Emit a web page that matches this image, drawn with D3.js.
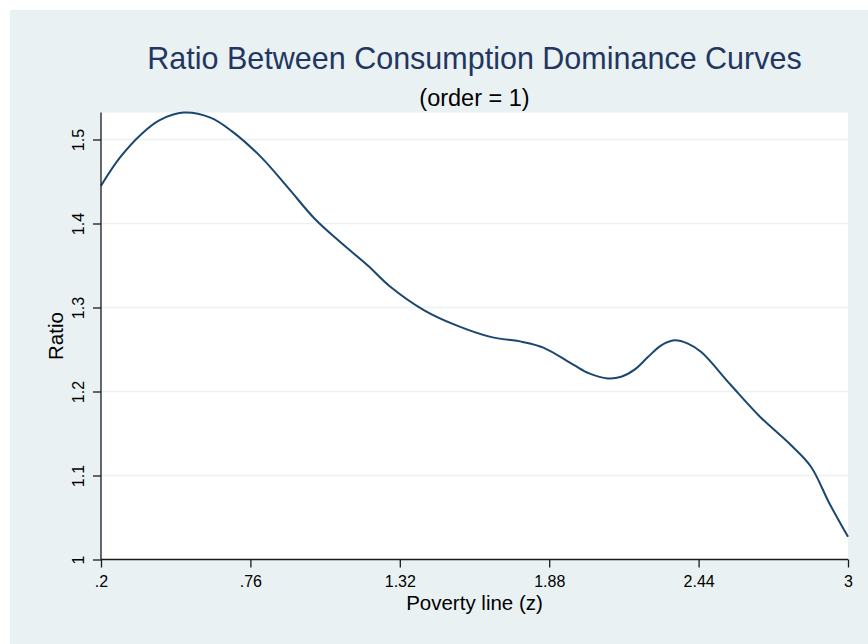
<!DOCTYPE html>
<html>
<head>
<meta charset="utf-8">
<script src="https://cdn.jsdelivr.net/npm/d3@7"></script>
<style>
  html, body { margin: 0; padding: 0; background: #ffffff; }
  svg { display: block; font-family: "Liberation Sans", Arial, Helvetica, sans-serif; }
</style>
</head>
<body>
<svg id="chart" width="868" height="644"></svg>
<script>
// ---- data ----
const titleText = "Ratio Between Consumption Dominance Curves";
const subtitleText = "(order = 1)";
const xAxisTitle = "Poverty line (z)";
const yAxisTitle = "Ratio";

const povertyLine = [0.2, 0.27, 0.35, 0.42, 0.51, 0.61, 0.69, 0.8, 0.9, 1.0, 1.1, 1.2, 1.28, 1.41, 1.53, 1.66, 1.78, 1.86, 1.97, 2.03, 2.1, 2.15, 2.2, 2.25, 2.3, 2.35, 2.4, 2.45, 2.56, 2.67, 2.78, 2.86, 2.93, 3.0];
const ratio = [1.445, 1.478, 1.506, 1.523, 1.532, 1.526, 1.510, 1.479, 1.443, 1.406, 1.377, 1.350, 1.326, 1.297, 1.279, 1.265, 1.259, 1.252, 1.232, 1.2215, 1.2155, 1.2175, 1.226, 1.241, 1.255, 1.261, 1.257, 1.247, 1.208, 1.170, 1.138, 1.111, 1.067, 1.027];

const xTicks = [0.2, 0.76, 1.32, 1.88, 2.44, 3];
const xTickLabels = [".2", ".76", "1.32", "1.88", "2.44", "3"];
const yTicks = [1, 1.1, 1.2, 1.3, 1.4, 1.5];
const yTickLabels = ["1", "1.1", "1.2", "1.3", "1.4", "1.5"];

// ---- layout ----
const svg = d3.select("#chart");
const plotLeft = 101, plotRight = 848, plotBottom = 559.5;
const bgColor = "#eaf1f3";
const lineColor = "#1a476f";
const titleColor = "#22365f";

const x = d3.scaleLinear().domain([0.2, 3]).range([plotLeft, plotRight]);
const y = d3.scaleLinear().domain([1, 1.5]).range([plotBottom, 139.5]);
const yTop = d3.max(ratio);

// graph region background
svg.append("rect").attr("x", 10).attr("y", 10).attr("width", 858).attr("height", 634).attr("fill", bgColor);

// plot region
svg.append("rect")
  .attr("x", plotLeft).attr("y", y(yTop))
  .attr("width", plotRight - plotLeft).attr("height", plotBottom - y(yTop))
  .attr("fill", "#ffffff");

// gridlines
svg.append("g").selectAll("line")
  .data(yTicks.filter(d => d > 1))
  .join("line")
  .attr("x1", plotLeft).attr("x2", plotRight)
  .attr("y1", d => y(d)).attr("y2", d => y(d))
  .attr("stroke", bgColor).attr("stroke-width", 1.6);

// data line
const line = d3.line()
  .x((d, i) => x(povertyLine[i]))
  .y(d => y(d))
  .curve(d3.curveCatmullRom.alpha(0.5));

svg.append("path")
  .datum(ratio)
  .attr("d", line)
  .attr("fill", "none")
  .attr("stroke", lineColor)
  .attr("stroke-width", 2);

// x axis
const xAxis = d3.axisBottom(x)
  .tickValues(xTicks)
  .tickFormat((d, i) => xTickLabels[i])
  .tickSize(8).tickSizeOuter(0);
const gx = svg.append("g").attr("transform", `translate(0,${plotBottom})`).call(xAxis);
gx.select(".domain").attr("stroke", "#1a1a1a").attr("stroke-width", 1.3)
  .attr("d", `M${plotLeft},0H${plotRight}`);
gx.selectAll(".tick line").attr("stroke", "#1a1a1a").attr("stroke-width", 1.3);
gx.selectAll(".tick text")
  .attr("y", 27).attr("dy", 0)
  .attr("fill", "#000").style("font-size", "16px")
  .style("font-family", "'Liberation Sans', Arial, sans-serif");

// y axis
const yAxis = d3.axisLeft(y)
  .tickValues(yTicks)
  .tickFormat((d, i) => yTickLabels[i])
  .tickSize(8).tickSizeOuter(0);
const gy = svg.append("g").attr("transform", `translate(${plotLeft},0)`).call(yAxis);
gy.select(".domain").attr("stroke", "#1a1a1a").attr("stroke-width", 1.3)
  .attr("d", `M0,${y(yTop)}V${plotBottom}`);
gy.selectAll(".tick line").attr("stroke", "#1a1a1a").attr("stroke-width", 1.3);
gy.selectAll(".tick text")
  .attr("transform", "rotate(-90)")
  .attr("x", 0).attr("y", -16.7).attr("dy", 0)
  .attr("text-anchor", "middle")
  .attr("fill", "#000").style("font-size", "16px")
  .style("font-family", "'Liberation Sans', Arial, sans-serif");

// titles
const cx = (plotLeft + plotRight) / 2;
svg.append("text")
  .attr("x", cx).attr("y", 68.5)
  .attr("text-anchor", "middle")
  .attr("fill", titleColor)
  .style("font-size", "30.5px")
  .text(titleText);

svg.append("text")
  .attr("x", cx).attr("y", 106)
  .attr("text-anchor", "middle")
  .attr("fill", "#000")
  .style("font-size", "23.5px")
  .text(subtitleText);

svg.append("text")
  .attr("x", cx).attr("y", 610)
  .attr("text-anchor", "middle")
  .attr("fill", "#000")
  .style("font-size", "20.5px")
  .text(xAxisTitle);

svg.append("text")
  .attr("transform", `translate(63.3,${(y(yTop) + plotBottom) / 2}) rotate(-90)`)
  .attr("text-anchor", "middle")
  .attr("fill", "#000")
  .style("font-size", "20.5px")
  .text(yAxisTitle);
</script>
</body>
</html>
